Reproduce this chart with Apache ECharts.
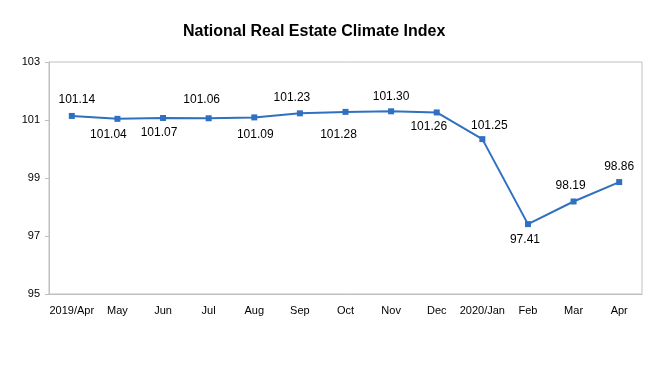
<!DOCTYPE html>
<html>
<head>
<meta charset="utf-8">
<script src="https://cdn.jsdelivr.net/npm/echarts@6/dist/echarts.min.js"></script>
<style>html,body{margin:0;padding:0;background:#fff;}#c{width:659px;height:386px;}</style>
</head>
<body>
<div id="c"></div>
<script>
const categories = ['2019/Apr','May','Jun','Jul','Aug','Sep','Oct','Nov','Dec','2020/Jan','Feb','Mar','Apr'];
const values = [101.14,101.04,101.07,101.06,101.09,101.23,101.28,101.30,101.26,100.34,97.41,98.19,98.86];
const labelTexts = ['101.14','101.04','101.07','101.06','101.09','101.23','101.28','101.30','101.26','101.25','97.41','98.19','98.86'];
const yTicks = [95,97,99,101,103];

// label placement (styling only)
const labelPlace = [
  ['top',[5,2]],['bottom',[-9,-2]],['bottom',[-4,-3]],['top',[-7,-1]],['bottom',[1,-1]],['top',[-8,2]],
  ['bottom',[-7,5]],['top',[0,3]],['bottom',[-8,-4]],['top',[7,5]],['bottom',[-3,-2]],['top',[-3,2]],['top',[0,3]]
];

const font = 'Liberation Sans, Arial, sans-serif';
const chart = echarts.init(document.getElementById('c'), null, {renderer:'canvas'});
chart.setOption({
  animation:false,
  backgroundColor:'#fff',
  title:{text:'National Real Estate Climate Index', left:178, top:19,
    textStyle:{fontFamily:font, fontSize:16, fontWeight:'bold', color:'#000'}},
  grid:{left:49, right:17, top:62, bottom:92, show:true, borderColor:'#bfbfbf', borderWidth:1},
  xAxis:{type:'category', data:categories, boundaryGap:true,
    axisLine:{lineStyle:{color:'#bfbfbf'}},
    axisTick:{inside:true, length:4, lineStyle:{color:'#bfbfbf'}},
    axisLabel:{fontFamily:font, fontSize:11, color:'#000', margin:11, interval:0},
    splitLine:{show:false}},
  yAxis:{type:'value', min:yTicks[0], max:yTicks[yTicks.length-1], interval:2,
    axisLine:{show:true, lineStyle:{color:'#bfbfbf'}},
    axisTick:{show:true, length:4, lineStyle:{color:'#bfbfbf'}},
    axisLabel:{fontFamily:font, fontSize:11, color:'#000', margin:9},
    splitLine:{show:false}},
  series:[{
    type:'line',
    data:values.map((v,i)=>({value:v, label:{position:labelPlace[i][0], offset:labelPlace[i][1], formatter:labelTexts[i]}})),
    symbol:'rect', symbolSize:6,
    lineStyle:{color:'#3070c0', width:2},
    itemStyle:{color:'#3070c0'},
    label:{show:true, fontFamily:font, fontSize:12, color:'#000', distance:9}
  }]
});
</script>
</body>
</html>
